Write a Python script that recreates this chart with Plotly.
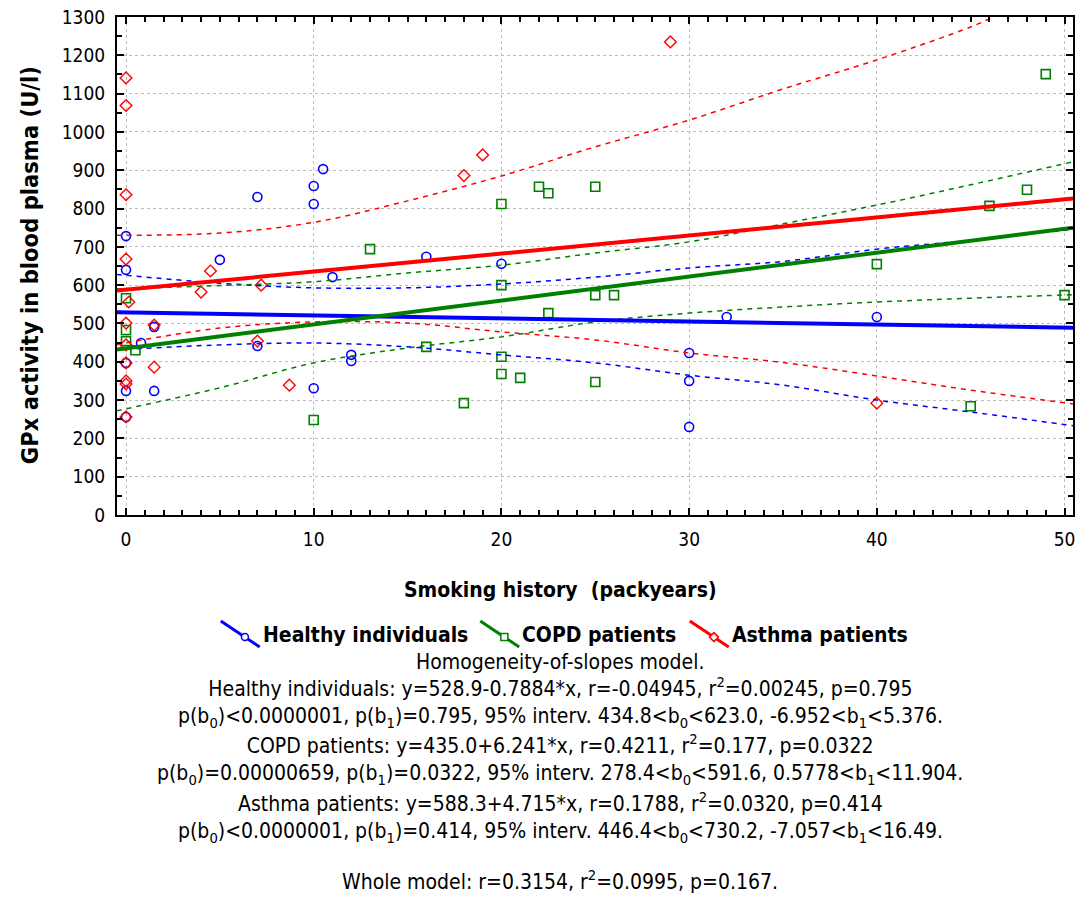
import plotly.graph_objects as go

# ---------------- data ----------------
healthy_x = [0, 0, 0, 0, 0, 0.8, 1.5, 1.5, 5, 7, 7, 10, 10, 10, 10.5, 11, 12, 12, 16, 20, 30, 30, 30, 32, 40]
healthy_y = [728, 640, 397, 324, 256, 449, 491, 324, 666, 830, 441, 859, 812, 331, 903, 621, 418, 402, 674, 656, 423, 350, 230, 517, 517]

copd_x = [0, 0, 0, 0.5, 10, 13, 16, 18, 20, 20, 20, 20, 21, 22, 22.5, 22.5, 25, 25, 25, 26, 40, 45, 46, 48, 49, 50]
copd_y = [566, 483, 454, 430, 248, 694, 439, 292, 812, 600, 413, 368, 358, 857, 840, 527, 857, 574, 347, 574, 655, 284, 807, 849, 1151, 574]

asthma_x = [0, 0, 0, 0, 0.15, 0, 0, 0, 0, 0, 0, 1.5, 1.5, 4, 4.5, 7.2, 7, 8.7, 18, 19, 29, 40]
asthma_y = [1141, 1069, 836, 668, 556, 501, 444, 397, 350, 342, 256, 496, 386, 582, 637, 600, 454, 339, 886, 940, 1235, 292]

# fitted lines (read at left / right edge of the plot)
fit_x = [-0.5, 50.45]
healthy_fit = [529.3, 489.1]
copd_fit = [431.9, 749.9]
asthma_fit = [585.9, 826.2]

# 95% confidence bands
band_x = [-0.5, 5, 10, 15, 20, 25, 30, 35, 40, 45, 50.45]
healthy_up = [628, 605, 593, 593, 603, 621, 645, 662, 694, 717, 746]
healthy_lo = [431, 444, 449, 439, 418, 397, 365, 339, 300, 269, 233]
copd_up = [590, 599, 609, 632, 652, 684, 713, 760, 809, 862, 922]
copd_lo = [272, 332, 397, 436, 465, 504, 527, 543, 556, 566, 575]
asthma_up_x = [-0.5, 5, 10, 15, 20, 25, 30, 35, 40, 45, 46.2]
asthma_up = [730, 736, 764, 820, 885, 961, 1031, 1112, 1188, 1274, 1300]
asthma_lo = [445, 488, 504, 501, 478, 457, 423, 398, 363, 326, 290]

x_ticks = [0, 10, 20, 30, 40, 50]
y_ticks = list(range(0, 1301, 100))

legend_names = ["Healthy individuals", "COPD patients", "Asthma patients"]
stat_blocks = [
    "Homogeneity-of-slopes model.",
    "Healthy individuals: y=528.9-0.7884*x, r=-0.04945, r<sup>2</sup>=0.00245, p=0.795<br>"
    "p(b<sub>0</sub>)<0.0000001, p(b<sub>1</sub>)=0.795, 95% interv. 434.8<b<sub>0</sub><623.0, -6.952<b<sub>1</sub><5.376.",
    "COPD patients: y=435.0+6.241*x, r=0.4211, r<sup>2</sup>=0.177, p=0.0322<br>"
    "p(b<sub>0</sub>)=0.00000659, p(b<sub>1</sub>)=0.0322, 95% interv. 278.4<b<sub>0</sub><591.6, 0.5778<b<sub>1</sub><11.904.",
    "Asthma patients: y=588.3+4.715*x, r=0.1788, r<sup>2</sup>=0.0320, p=0.414<br>"
    "p(b<sub>0</sub>)<0.0000001, p(b<sub>1</sub>)=0.414, 95% interv. 446.4<b<sub>0</sub><730.2, -7.057<b<sub>1</sub><16.49.",
    "Whole model: r=0.3154, r<sup>2</sup>=0.0995, p=0.167.",
]

# ---------------- styling ----------------
BLUE = "#0000FF"
GREEN = "#008000"
RED = "#FF0000"
FONT = "Liberation Sans Narrow, DejaVu Sans Condensed, Arial Narrow, sans-serif"

W, H = 1081, 918
L, R, T, B = 117, 1075, 17, 515  # plot area in pixels


def px(x):
    return (x - L) / (R - L)


def py(y):
    return (B - y) / (B - T)


fig = go.Figure()

# markers
fig.add_trace(go.Scatter(x=healthy_x, y=healthy_y, mode="markers",
                         marker=dict(symbol="circle-open", size=9, color=BLUE, line=dict(width=1.6))))
fig.add_trace(go.Scatter(x=copd_x, y=copd_y, mode="markers",
                         marker=dict(symbol="square-open", size=9, color=GREEN, line=dict(width=1.6))))
fig.add_trace(go.Scatter(x=asthma_x, y=asthma_y, mode="markers",
                         marker=dict(symbol="diamond-open", size=9, color=RED, line=dict(width=1.4))))

# confidence bands
for xs, ys, c in [(band_x, healthy_up, BLUE), (band_x, healthy_lo, BLUE),
                  (band_x, copd_up, GREEN), (band_x, copd_lo, GREEN),
                  (asthma_up_x, asthma_up, RED), (band_x, asthma_lo, RED)]:
    fig.add_trace(go.Scatter(x=xs, y=ys, mode="lines", line=dict(color=c, width=1.5, dash="5px,5px"),
                             line_shape="spline"))

# fitted lines
for ys, c in [(healthy_fit, BLUE), (copd_fit, GREEN), (asthma_fit, RED)]:
    fig.add_trace(go.Scatter(x=fit_x, y=ys, mode="lines", line=dict(color=c, width=4)))

axis_common = dict(
    showline=True, linecolor="black", linewidth=2, mirror="ticks",
    ticks="inside", ticklen=7, tickwidth=1.5, tickcolor="black",
    showgrid=True, gridcolor="#bdbdbd", gridwidth=1, griddash="dot",
    zeroline=False,
    tickfont=dict(family=FONT, size=19, color="black"),
)

fig.update_xaxes(range=[-0.48, 50.45], tickvals=x_ticks, ticklabelstandoff=6,
                 minor=dict(dtick=1, tick0=0, ticks="inside", ticklen=5, tickcolor="black", showgrid=False),
                 **axis_common)
fig.update_yaxes(range=[0, 1300], tickvals=y_ticks, ticklabelstandoff=6,
                 minor=dict(dtick=50, tick0=0, ticks="inside", ticklen=5, tickcolor="black", showgrid=False),
                 **axis_common)

annotations = []
shapes = []

# axis titles
annotations.append(dict(x=px(30), y=py(265), xref="paper", yref="paper", text="<b>GPx activity in blood plasma (U/l)</b>",
                        textangle=-90, showarrow=False, xanchor="center", yanchor="middle",
                        font=dict(family=FONT, size=23.5, color="black")))
annotations.append(dict(x=px(561), y=py(590), xref="paper", yref="paper", text="<b>Smoking history  (packyears)</b>",
                        showarrow=False, xanchor="center", yanchor="middle",
                        font=dict(family=FONT, size=21, color="black")))

# manual legend
leg = [(221, 260, BLUE, "circle"), (481, 520, GREEN, "square"), (691, 730, RED, "diamond")]
for (x0, x1, c, sym), name in zip(leg, legend_names):
    shapes.append(dict(type="line", xref="paper", yref="paper", x0=px(x0), y0=py(621), x1=px(x1), y1=py(647),
                       line=dict(color=c, width=3)))
    mx, my = x0 + 0.62 * (x1 - x0), 621 + 0.62 * 26
    if sym == "circle":
        shapes.append(dict(type="circle", xref="paper", yref="paper", x0=px(mx - 3.5), x1=px(mx + 3.5),
                           y0=py(my - 3.5), y1=py(my + 3.5), line=dict(color=c, width=1.5), fillcolor="white"))
    elif sym == "square":
        shapes.append(dict(type="rect", xref="paper", yref="paper", x0=px(mx - 3.5), x1=px(mx + 3.5),
                           y0=py(my - 3.5), y1=py(my + 3.5), line=dict(color=c, width=1.5), fillcolor="white"))
    else:
        shapes.append(dict(type="path", xref="paper", yref="paper",
                           path=f"M {px(mx)} {py(my - 4.5)} L {px(mx + 4.5)} {py(my)} L {px(mx)} {py(my + 4.5)} L {px(mx - 4.5)} {py(my)} Z",
                           line=dict(color=c, width=1.5), fillcolor="white"))
    annotations.append(dict(x=px(x1 + 1), y=py(635), xref="paper", yref="paper", text=f"<b>{name}</b>",
                            xanchor="left", yanchor="middle", showarrow=False,
                            font=dict(family=FONT, size=21, color="black")))

# statistics text
block_y = [662, 702, 759, 817, 880]
for t, yy in zip(stat_blocks, block_y):
    annotations.append(dict(x=px(561), y=py(yy), xref="paper", yref="paper", text=t, showarrow=False,
                            xanchor="center", yanchor="middle", align="center",
                            font=dict(family=FONT, size=21, color="black")))

fig.update_layout(
    width=W, height=H,
    margin=dict(l=L, r=W - R, t=T, b=H - B, pad=0),
    paper_bgcolor="white", plot_bgcolor="white",
    showlegend=False,
    annotations=annotations, shapes=shapes,
)

fig.write_html("out.html")
